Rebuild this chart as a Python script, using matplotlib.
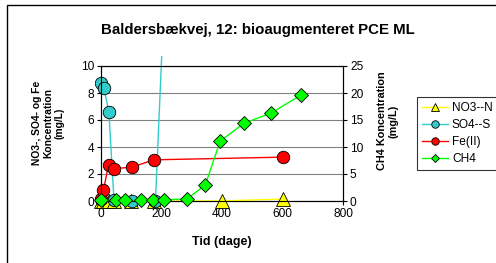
import matplotlib
matplotlib.use("Agg")
import matplotlib.pyplot as plt
from matplotlib.patches import Rectangle

plt.rcParams['font.family'] = ['Liberation Sans', 'DejaVu Sans']

# Data
no3_days = [0, 8, 25, 43, 100, 175, 400, 600]
no3_vals = [0, 0, 0, 0, 0, 0, 0, 0.15]
so4_days = [0, 9, 26, 43, 101, 180, 210]
so4_vals = [8.75, 8.4, 6.6, 0.05, 0.0, 0.0, 15.6]
fe_days = [0, 8, 25, 43, 101, 175, 602]
fe_vals = [0.15, 0.78, 2.68, 2.4, 2.5, 3.05, 3.25]
ch4_days = [0, 49, 80, 133, 172, 207, 285, 345, 394, 473, 563, 660]
ch4_vals = [0.1, 0.1, 0.1, 0.1, 0.1, 0.2, 0.4, 3.0, 11.1, 14.4, 16.3, 19.6]

left_ticks = [0, 2, 4, 6, 8, 10]
right_ticks = [0, 5, 10, 15, 20, 25]
x_ticks = [0, 200, 400, 600, 800]

W, H = 496, 263
fig = plt.figure(figsize=(4.96, 2.63), dpi=100)
fig.patch.set_facecolor('white')
# outer chart border
fig.patches.append(Rectangle((7/W, -0.1), 1.2, (1 - 5/H) + 0.1,
                             transform=fig.transFigure, fill=False,
                             edgecolor='black', linewidth=1.0))

ax = fig.add_axes([101/W, 62/H, 242/W, 135/H])
ax.set_xlim(0, 800)
ax.set_ylim(0, 10)
ax.set_yticks(left_ticks)
ax.set_xticks(x_ticks)
ax.grid(axis='y', color='#808080', linewidth=0.8)
ax.set_axisbelow(True)
for s in ax.spines.values():
    s.set_color('black')
    s.set_linewidth(0.8)
ax.tick_params(labelsize=8.6, direction='out', length=3, width=0.8, pad=2)

l_no3, = ax.plot(no3_days, no3_vals, color='#FFFF00', lw=1, marker='^',
                 markersize=9.5, markerfacecolor='#FFFF00', markeredgecolor='black',
                 markeredgewidth=0.6, clip_on=False, zorder=3)
l_so4, = ax.plot(so4_days, so4_vals, color='#33CCCC', lw=1, marker='o',
                 markersize=9, markerfacecolor='#33CCCC', markeredgecolor='black',
                 markeredgewidth=0.6, zorder=4)
clip = Rectangle((95/W, 55/H), 260/W, 152/H, transform=fig.transFigure)
l_so4.set_clip_path(clip)
l_fe, = ax.plot(fe_days, fe_vals, color='#FF0000', lw=1, marker='o',
                markersize=9, markerfacecolor='#FF0000', markeredgecolor='black',
                markeredgewidth=0.6, clip_on=False, zorder=5)

ax2 = ax.twinx()
ax2.set_ylim(0, 25)
ax2.set_yticks(right_ticks)
for s in ax2.spines.values():
    s.set_color('black')
    s.set_linewidth(0.8)
ax2.tick_params(labelsize=8.6, direction='out', length=3, width=0.8, pad=2)
l_ch4, = ax2.plot(ch4_days, ch4_vals, color='#00FF00', lw=1, marker='D',
                  markersize=7.5, markerfacecolor='#00FF00', markeredgecolor='black',
                  markeredgewidth=0.6, clip_on=False, zorder=6)

fig.text(258/W, 1 - 30/H, 'Baldersbækvej, 12: bioaugmenteret PCE ML',
         ha='center', va='center', fontsize=10.8, fontweight='bold')
fig.text(222/W, 1 - 242/H, 'Tid (dage)', ha='center', va='center',
         fontsize=9, fontweight='bold')
fig.text(48/W, 1 - 123/H, 'NO3-, SO4- og Fe\nKoncentration\n(mg/L)',
         ha='center', va='center', rotation=90, fontsize=7.4,
         fontweight='bold', linespacing=1.15)
fig.text(388/W, 1 - 121/H, 'CH4 Koncentration\n(mg/L)',
         ha='center', va='center', rotation=90, fontsize=7.8,
         fontweight='bold', linespacing=1.2)

leg = fig.legend([l_no3, l_so4, l_fe, l_ch4], ['NO3--N', 'SO4--S', 'Fe(II)', 'CH4'],
                 loc='upper left', bbox_to_anchor=(417/W, 1 - 97/H),
                 fontsize=8.6, frameon=True, fancybox=False, edgecolor='black',
                 handlelength=2.2, handletextpad=0.3, labelspacing=0.42,
                 borderpad=0.42, borderaxespad=0, markerscale=0.6)
leg.get_frame().set_linewidth(0.8)

fig.savefig('out.png', dpi=100, facecolor='white')
